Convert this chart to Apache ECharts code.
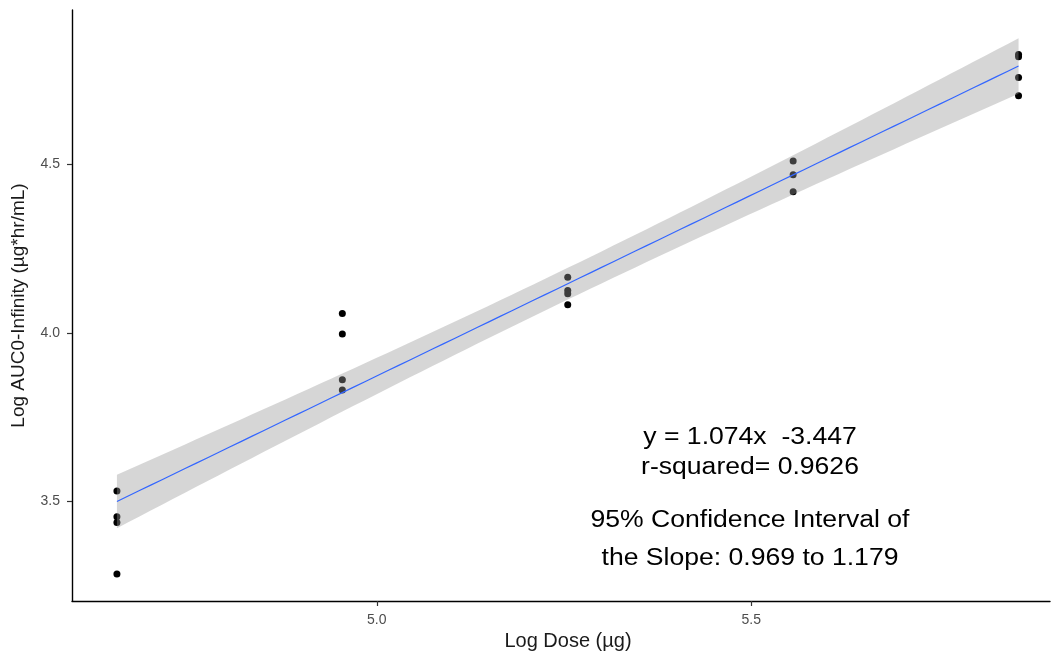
<!DOCTYPE html>
<html>
<head>
<meta charset="utf-8">
<script src="https://cdn.jsdelivr.net/npm/echarts@6/dist/echarts.min.js"></script>
<style>
  html, body { margin: 0; padding: 0; background: #fff; }
  #chart { width: 1052px; height: 659px; }
</style>
</head>
<body>
<div id="chart"></div>
<script>
// Log10 dose levels (µg) and the observed log AUC0-inf values at each level
const doseLevels = [4.653, 4.954, 5.255, 5.556, 5.857];
const aucGroup1 = [3.531, 3.455, 3.438, 3.285];
const aucGroup2 = [4.058, 3.997, 3.861, 3.831];
const aucGroup3 = [4.165, 4.126, 4.116, 4.084];
const aucGroup4 = [4.510, 4.469, 4.419];
const aucGroup5 = [4.826, 4.819, 4.758, 4.704];
const aucGroups = [aucGroup1, aucGroup2, aucGroup3, aucGroup4, aucGroup5];

const xTicks = [5.0, 5.5];
const yTicks = [3.5, 4.0, 4.5];

const annotationLines = [
  'y = 1.074x  -3.447',
  'r-squared= 0.9626',
  '95% Confidence Interval of',
  'the Slope: 0.969 to 1.179'
];

// Flatten into [x, y] observations
const points = [];
aucGroups.forEach((g, i) => g.forEach(v => points.push([doseLevels[i], v])));

// Ordinary least squares fit with a 95% confidence band for the mean response
const n = points.length;
const xbar = points.reduce((s, p) => s + p[0], 0) / n;
const ybar = points.reduce((s, p) => s + p[1], 0) / n;
let sxx = 0, sxy = 0;
points.forEach(p => { sxx += (p[0] - xbar) ** 2; sxy += (p[0] - xbar) * (p[1] - ybar); });
const slope = sxy / sxx;
const intercept = ybar - slope * xbar;
let sse = 0;
points.forEach(p => { sse += (p[1] - (intercept + slope * p[0])) ** 2; });
const df = n - 2;
const sigma = Math.sqrt(sse / df);

// Student t 97.5% quantile via Cornish-Fisher expansion
function tQuantile975(v) {
  const z = 1.959964;
  const z3 = z ** 3, z5 = z ** 5, z7 = z ** 7;
  return z + (z3 + z) / (4 * v)
           + (5 * z5 + 16 * z3 + 3 * z) / (96 * v * v)
           + (3 * z7 + 19 * z5 + 17 * z3 - 15 * z) / (384 * v ** 3);
}
const tCrit = tQuantile975(df);

const xLo = Math.min(...doseLevels), xHi = Math.max(...doseLevels);
const steps = 80;
const fitLine = [], bandLo = [], bandHi = [];
for (let i = 0; i <= steps; i++) {
  const x = xLo + (xHi - xLo) * i / steps;
  const yhat = intercept + slope * x;
  const se = sigma * Math.sqrt(1 / n + (x - xbar) ** 2 / sxx);
  fitLine.push([x, yhat]);
  bandLo.push([x, yhat - tCrit * se]);
  bandHi.push([x, yhat + tCrit * se]);
}

const chart = echarts.init(document.getElementById('chart'), null, { renderer: 'canvas' });

const textFont = '"Liberation Sans", Arial, sans-serif';
const annotationY = [438, 468, 521, 559];

chart.setOption({
  animation: false,
  backgroundColor: '#ffffff',
  grid: { left: 72, right: 2, top: 10, bottom: 58, containLabel: false, outerBoundsMode: 'none' },
  xAxis: {
    type: 'value',
    min: 4.593,
    max: 5.899,
    name: 'Log Dose (µg)',
    nameLocation: 'middle',
    nameGap: 29,
    nameTextStyle: { fontFamily: textFont, fontSize: 20, color: '#1a1a1a', padding: [0, 0, 0, 14] },
    axisLine: { show: true, lineStyle: { color: '#000', width: 1.4 } },
    axisTick: { show: true, length: 5, lineStyle: { color: '#333', width: 1.2 }, customValues: xTicks },
    axisLabel: {
      fontFamily: textFont, fontSize: 14, color: '#4D4D4D', margin: 12,
      customValues: xTicks,
      formatter: v => v.toFixed(1)
    },
    splitLine: { show: false }
  },
  yAxis: {
    type: 'value',
    min: 3.205,
    max: 4.958,
    name: 'Log AUC0-Infinity (µg*hr/mL)',
    nameLocation: 'middle',
    nameGap: 44,
    nameTextStyle: { fontFamily: textFont, fontSize: 19, color: '#1a1a1a' },
    axisLine: { show: true, lineStyle: { color: '#000', width: 1.4 } },
    axisTick: { show: true, length: 5, lineStyle: { color: '#333', width: 1.2 }, customValues: yTicks },
    axisLabel: {
      fontFamily: textFont, fontSize: 14, color: '#4D4D4D', margin: 12,
      customValues: yTicks,
      formatter: v => v.toFixed(1)
    },
    splitLine: { show: false }
  },
  series: [
    {
      type: 'scatter',
      data: points,
      symbolSize: 7,
      itemStyle: { color: '#000', opacity: 1 },
      z: 1
    },
    {
      type: 'custom',
      data: [[xLo, bandLo[0][1]]],
      z: 2,
      silent: true,
      renderItem: (params, api) => {
        const pts = bandLo.map(p => api.coord(p))
          .concat(bandHi.slice().reverse().map(p => api.coord(p)));
        return {
          type: 'polygon',
          shape: { points: pts },
          style: { fill: 'rgba(153,153,153,0.4)', stroke: null }
        };
      }
    },
    {
      type: 'line',
      data: fitLine,
      showSymbol: false,
      lineStyle: { color: '#3366FF', width: 1.2 },
      z: 3
    }
  ],
  graphic: annotationLines.map((t, i) => ({
    type: 'text',
    x: 750,
    y: annotationY[i],
    scaleX: 1.155,
    z: 10,
    style: {
      text: t,
      font: '23px ' + textFont,
      fill: '#000',
      textAlign: 'center',
      textVerticalAlign: 'middle'
    }
  }))
});
</script>
</body>
</html>
